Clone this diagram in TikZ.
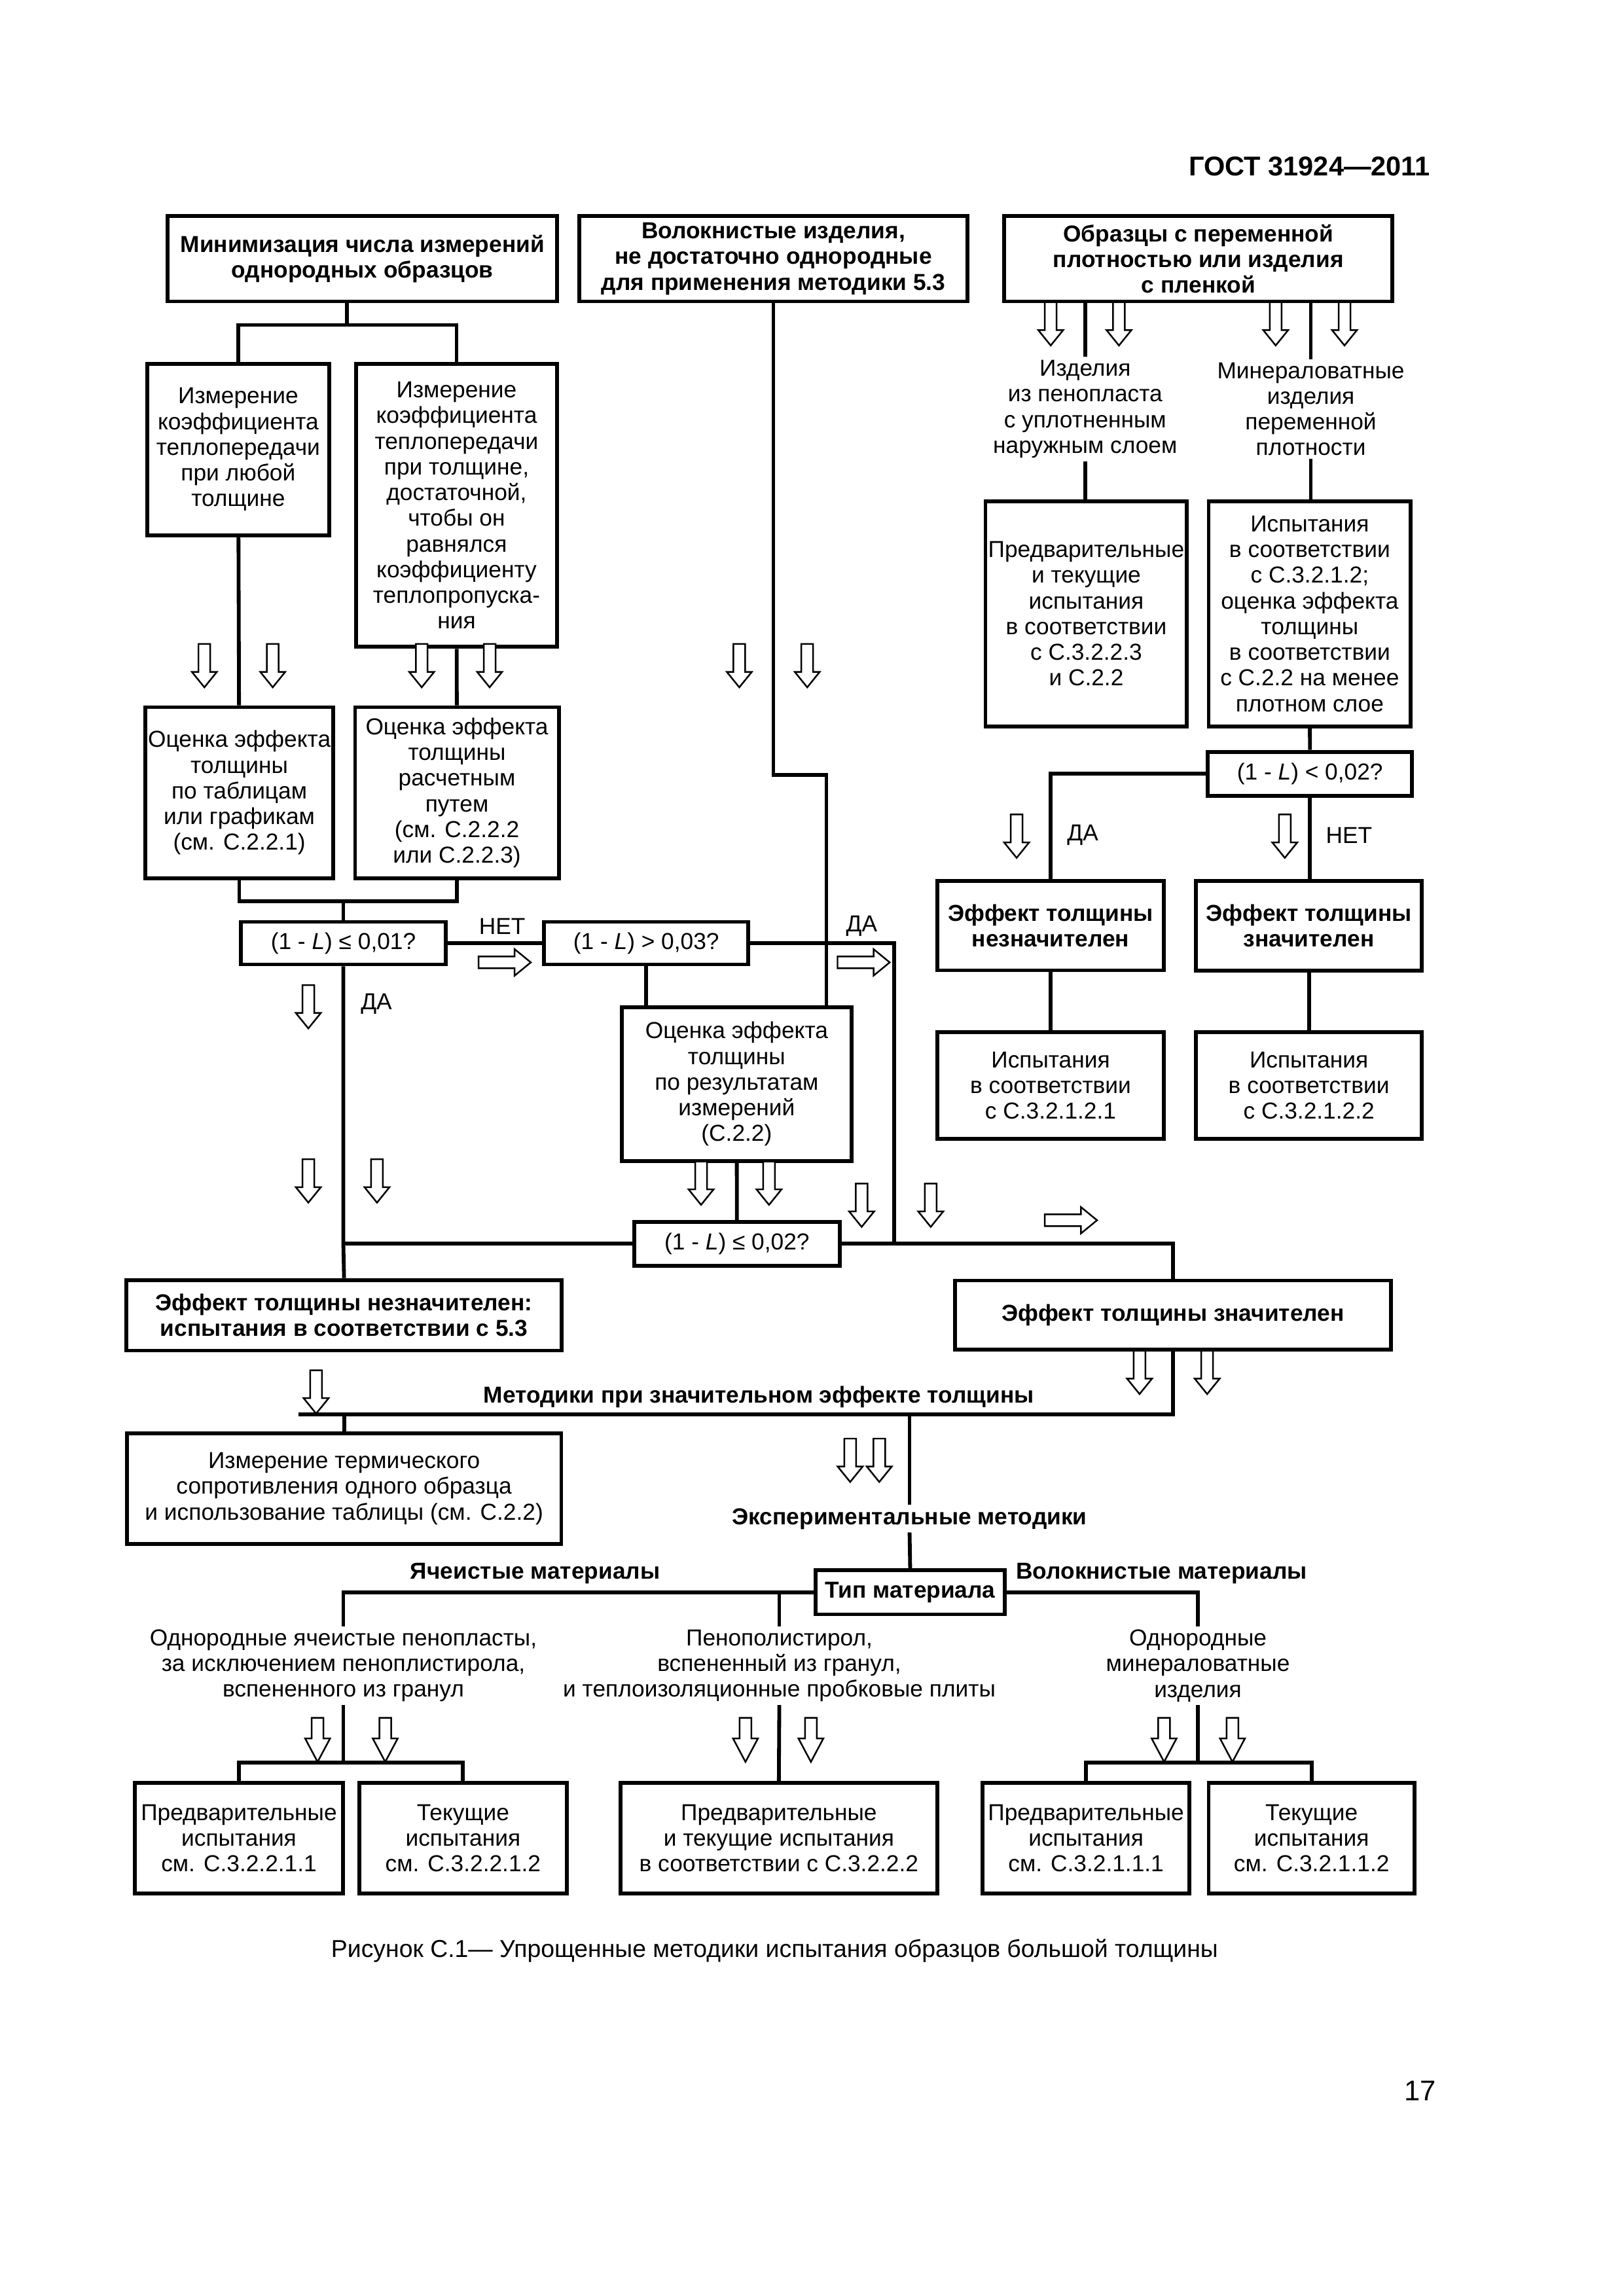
\documentclass[tikz,border=0pt]{standalone}
\usepackage{fontspec}
\setmainfont{Liberation Sans}
\usetikzlibrary{positioning}
\newcommand\dpx{0.019018cm}
\tikzset{
    %Define style for boxes
    box/.style={
           rectangle,
           draw=black, line width=1.4pt,
           inner sep=1pt,
           align=center,
           font=\fontsize{8.5}{9.45}\selectfont},
    bbox/.style={
           box,
           font=\fontsize{8.5}{9.45}\selectfont\bfseries},
    wh/.style 2 args={
           minimum width=#1*\dpx,
           minimum height=#2*\dpx},
    % Define style for free texts
    txt/.style={
           inner sep=1pt,
           align=center,
           font=\fontsize{8.5}{9.45}\selectfont},
    btxt/.style={
           txt,
           font=\fontsize{8.5}{9.45}\selectfont\bfseries},
    % Define line style
    link/.style={
           line width=1.4pt},
    hollow/.style={
           draw=black, fill=white,
           line width=0.6pt,
           line join=miter},
    % Define hollow arrows
    darr/.pic={\draw[hollow] (-4,0) -- (-4,19) -- (-8.5,19) -- (0,29.5) -- (8.5,19) -- (4,19) -- (4,0) -- cycle;},
    darrl/.pic={\draw[hollow] (-4,0) -- (-4,14) -- (-8.5,14) -- (0,30) -- (8.5,14) -- (4,14) -- (4,0) -- cycle;},
    rarr/.pic={\draw[hollow] (0,-4) -- (24.5,-4) -- (24.5,-9) -- (35.5,0) -- (24.5,9) -- (24.5,4) -- (0,4) -- cycle;}
}

\begin{document}
\begin{tikzpicture}[x=\dpx, y=-\dpx]
    \path[fill=white] (0,0) rectangle (1104.2,1561.7);
    \useasboundingbox (0,0) rectangle (1104.2,1561.7);
 %page texts
    \node[font=\fontsize{10}{12}\selectfont\bfseries, anchor=east, inner sep=0pt] (gost) at (973,113) {ГОСТ 31924—2011};
    \node[font=\fontsize{9}{11}\selectfont, inner sep=0pt] (capt) at (526.8,1327) {Рисунок С.1— Упрощенные методики испытания образцов большой толщины};
    \node[font=\fontsize{10.5}{12}\selectfont, inner sep=0pt] (page) at (966,1422) {17};
 %nodes, top row
    \node[bbox, wh={265}{58}] (mini) at (246.5,176) {Минимизация числа измерений\\однородных образцов};
    \node[bbox, wh={264}{58}] (fibr) at (526,176) {Волокнистые изделия,\\не достаточно однородные\\для применения методики 5.3};
    \node[bbox, wh={264}{58}] (vard) at (815,176) {Образцы с переменной\\плотностью или изделия\\с пленкой};
 %nodes, left column
    \node[box, wh={124}{116.5}] (mz1) at (162,305.75) {Измерение\\коэффициента\\теплопередачи\\при любой\\толщине};
    \node[box, wh={137}{192.5}] (mz2) at (310.5,343.75) {Измерение\\коэффициента\\теплопередачи\\при толщине,\\достаточной,\\чтобы он\\равнялся\\коэффициенту\\теплопропуска-\\ния};
    \node[box, wh={125.5}{116.5}] (ev1) at (162.75,539.25) {Оценка эффекта\\толщины\\по таблицам\\или графикам\\(см. С.2.2.1)};
    \node[box, wh={138.5}{116.5}] (ev2) at (310.75,539.25) {Оценка эффекта\\толщины\\расчетным\\путем\\(см. С.2.2.2\\или С.2.2.3)};
    \node[box, wh={139}{29}] (q1) at (233.5,641.5) {(1 - \textit{L}) ≤ 0,01?};
    \node[box, wh={139}{29}] (q2) at (439.5,641.5) {(1 - \textit{L}) > 0,03?};
    \node[box, wh={156}{104.7}] (resb) at (501,737.3) {Оценка эффекта\\толщины\\по результатам\\измерений\\(С.2.2)};
    \node[box, wh={139.6}{30}] (q3) at (501.2,846) {(1 - \textit{L}) ≤ 0,02?};
    \node[bbox, wh={296}{48}] (insg) at (234,894.6) {Эффект толщины незначителен:\\испытания в соответствии с 5.3};
    \node[bbox, wh={296.4}{47}] (sign) at (797.8,894.5) {Эффект толщины значителен};
 %nodes, right column
    \node[txt] (foam) at (738,278.3) {Изделия\\из пенопласта\\с уплотненным\\наружным слоем};
    \node[txt] (minw) at (891.5,278.3) {Минераловатные\\изделия\\переменной\\плотности};
    \node[box, wh={136.5}{153}] (pb1) at (738.75,417.5) {Предварительные\\и текущие\\испытания\\в соответствии\\с С.3.2.2.3\\и С.2.2};
    \node[box, wh={137.5}{153}] (tb1) at (890.75,417.5) {Испытания\\в соответствии\\с С.3.2.1.2;\\оценка эффекта\\толщины\\в соответствии\\с С.2.2 на менее\\плотном слое};
    \node[box, wh={139}{30}] (q4) at (890.9,526.35) {(1 - \textit{L}) < 0,02?};
    \node[bbox, wh={154}{60.8}] (nsg) at (714.5,629.6) {Эффект толщины\\незначителен};
    \node[bbox, wh={153.6}{61}] (ysg) at (890.2,629.6) {Эффект толщины\\значителен};
    \node[box, wh={154}{72.7}] (ts1) at (714.5,738.4) {Испытания\\в соответствии\\с С.3.2.1.2.1};
    \node[box, wh={153.6}{72.7}] (ts2) at (890.2,738.4) {Испытания\\в соответствии\\с С.3.2.1.2.2};
 %nodes, bottom part
    \node[btxt] (meth) at (516,950) {Методики при значительном эффекте толщины};
    \node[box, wh={295.5}{75}] (therm) at (234,1012.5) {Измерение термического\\сопротивления одного образца\\и использование таблицы (см. С.2.2)};
    \node[btxt] (expt) at (618.6,1033) {Экспериментальные методики};
    \node[bbox, wh={128.7}{30}] (typm) at (619,1083) {Тип материала};
    \node[btxt] (cell) at (364,1070) {Ячеистые материалы};
    \node[btxt] (fibm) at (790,1070) {Волокнистые материалы};
    \node[txt] (cellt) at (233.5,1133) {Однородные ячеистые пенопласты,\\за исключением пеноплистирола,\\вспененного из гранул};
    \node[txt] (pent) at (530,1133) {Пенополистирол,\\вспененный из гранул,\\и теплоизоляционные пробковые плиты};
    \node[txt] (mint) at (814.7,1133) {Однородные\\минераловатные\\изделия};
    \node[box, wh={141.3}{75.3}] (pr1) at (162.5,1250.3) {Предварительные\\испытания\\см. С.3.2.2.1.1};
    \node[box, wh={141.3}{75.3}] (cu1) at (314.9,1250.3) {Текущие\\испытания\\см. С.3.2.2.1.2};
    \node[box, wh={215.3}{75.3}] (pr3) at (529.7,1250.3) {Предварительные\\и текущие испытания\\в соответствии с С.3.2.2.2};
    \node[box, wh={140.7}{75.3}] (pr4) at (738.6,1250.3) {Предварительные\\испытания\\см. С.3.2.1.1.1};
    \node[box, wh={140}{75.3}] (cu2) at (892,1250.3) {Текущие\\испытания\\см. С.3.2.1.1.2};
 %labels
    \node[txt] (no1) at (341.5,630) {НЕТ};
    \node[txt] (yes1) at (586,630) {ДА};
    \node[txt] (yes2) at (256,683) {ДА};
    \node[txt] (yes3) at (736.4,568) {ДА};
    \node[txt] (no2) at (917.5,568) {НЕТ};
 %junctions
    \coordinate (j1) at (236,221);
    \coordinate (j2) at (233.5,613);
    \coordinate (j3) at (608,641.5);
    \coordinate (j4) at (608,846);
    \coordinate (j5) at (526,527);
    \coordinate (j6) at (562,527);
    \coordinate (j7) at (233.5,846);
    \coordinate (j8) at (203,962);
    \coordinate (j11) at (233.5,1199);
    \coordinate (j12) at (814.7,1199);
 %edges
    \draw[link] (mini.south -| j1) -- (j1);
    \draw[link] (mz1.north) |- (j1) -| (mz2.north);
    \draw[link] (mz1) -- (ev1);
    \draw[link] (mz2) -- (ev2);
    \draw[link] (ev1.south) |- (j2) -| (ev2.south);
    \draw[link] (j2) -- (q1);
    \draw[link] (q1) -- (q2);
    \draw[link] (q2.south) -- (q2.south |- resb.north);
    \draw[link] (q2.east) -- (j3) -- (j4);
    \draw[link] (fibr.south) -- (j5) -- (j6) -- (j6 |- resb.north);
    \draw[link] (q1.south) -- (j7) -- (insg.north);
    \draw[link] (resb) -- (q3);
    \draw[link] (q3.west) -- (j7);
    \draw[link] (q3.east) -- (j4) -| (sign.north);
    \draw[link] (sign.south) -- (sign.south |- j8) -- (j8);
    \draw[link] (therm.north) -- (therm.north |- j8);
    \draw[link] (expt.north) -- (expt.north |- j8);
    \draw[link] (expt.south) -- (typm.north);
    \draw[link] (typm.west) -| (cellt.north);
    \draw[link] (pent.north) -- (pent.north |- typm.west);
    \draw[link] (typm.east) -| (mint.north);
    \draw[link] (cellt.south) -- (j11);
    \draw[link] (pr1.north) |- (j11) -| (cu1.north);
    \draw[link] (pent.south) -- (pr3.north);
    \draw[link] (mint.south) -- (j12);
    \draw[link] (pr4.north) |- (j12) -| (cu2.north);
    \draw[link] (vard.south -| foam) -- (foam.north);
    \draw[link] (foam.south) -- (foam.south |- pb1.north);
    \draw[link] (vard.south -| minw) -- (minw.north);
    \draw[link] (minw.south) -- (minw.south |- tb1.north);
    \draw[link] (tb1) -- (q4);
    \draw[link] (q4.west) -| (nsg.north);
    \draw[link] (q4.south) -- (q4.south |- ysg.north);
    \draw[link] (nsg) -- (ts1);
    \draw[link] (ysg) -- (ts2);
 %arrows
    \foreach \ax in {714.6,761,867.6,914.4} \pic at (\ax,205.5) {darr};
    \foreach \ax in {139,185.5,286.8,333,502.8,549} \pic at (\ax,438) {darr};
    \foreach \ax in {691.4,873.8} \pic at (\ax,554) {darr};
    \pic at (209.7,670) {darr};
    \foreach \ax in {209.7,256.4} \pic at (\ax,788.5) {darr};
    \foreach \ax in {476.8,523} \pic at (\ax,790) {darr};
    \foreach \ax in {586,633} \pic at (\ax,805) {darr};
    \foreach \ax in {775,821} \pic at (\ax,918.7) {darr};
    \pic at (215,932) {darr};
    \foreach \ax in {578.2,598} \pic at (\ax,978.5) {darr};
    \foreach \ax in {216,262,507,551.5,791.7,838.2} \pic at (\ax,1168.4) {darrl};
    \foreach \ax/\ay in {325.5/654.6,569.6/654.6,710.6/830} \pic at (\ax,\ay) {rarr};
\end{tikzpicture}
\end{document}
